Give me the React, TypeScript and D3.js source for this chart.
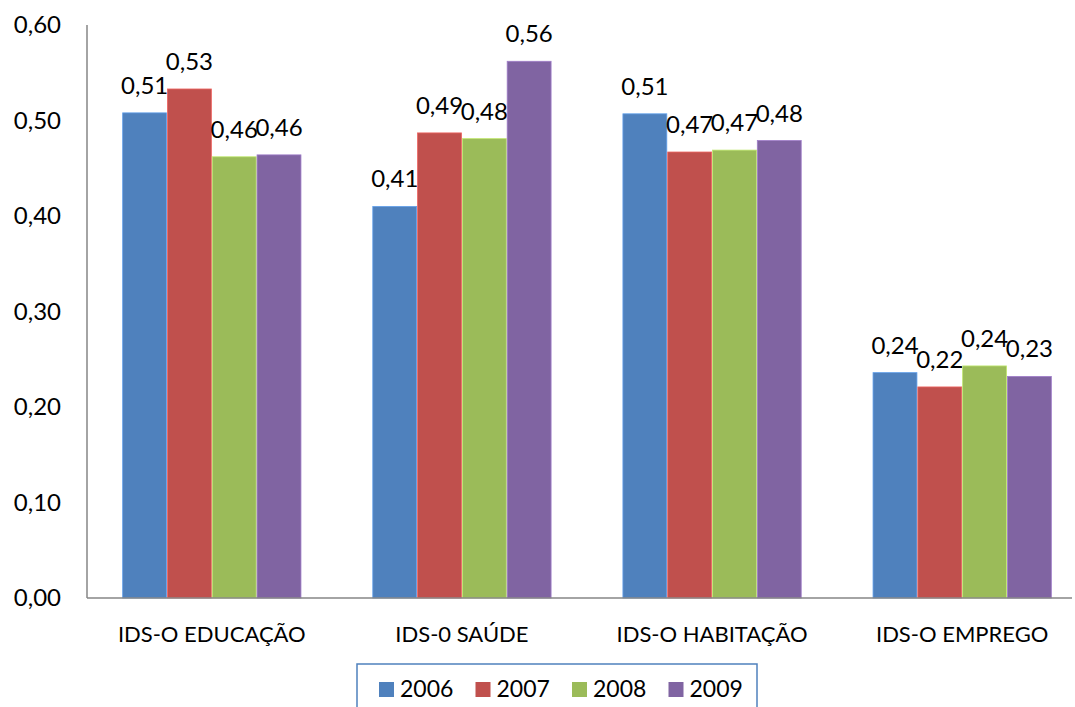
import * as d3 from 'd3'
import { useEffect, useRef } from 'react'

const categories = ['IDS-O EDUCAÇÃO', 'IDS-0 SAÚDE', 'IDS-O HABITAÇÃO', 'IDS-O EMPREGO']
const years = ['2006', '2007', '2008', '2009']
const v2006 = [0.508, 0.41, 0.507, 0.236]
const v2007 = [0.533, 0.487, 0.467, 0.221]
const v2008 = [0.462, 0.481, 0.469, 0.243]
const v2009 = [0.464, 0.562, 0.479, 0.232]
const colors = ['#4F81BD', '#C0504D', '#9BBB59', '#8064A2']
const yTicks = [0, 0.1, 0.2, 0.3, 0.4, 0.5, 0.6]

const FONT = 'Lato, "Open Sans", sans-serif'

export default function App() {
  const svgRef = useRef<SVGSVGElement>(null)

  useEffect(() => {
    if (!svgRef.current) return
    const svg = d3.select(svgRef.current)
    svg.selectAll('*').remove()

    const W = 1075
    const H = 707
    const left = 87
    const right = 1072
    const top = 25
    const bottom = 598

    const series = [v2006, v2007, v2008, v2009]

    // band range runs a bit past the axis end so the groups sit where the original's do
    const x = d3.scaleBand().domain(categories).range([left, 1087]).paddingInner(0.28).paddingOuter(0.139)
    const xs = d3.scaleBand().domain(years).range([0, x.bandwidth()]).padding(0.02)
    const y = d3.scaleLinear().domain([0, 0.6]).range([bottom, top])
    const fmt = (v: number) => d3.format('.2f')(v).replace('.', ',')

    svg.attr('viewBox', `0 0 ${W} ${H}`)

    // y tick labels
    svg
      .append('g')
      .selectAll('text')
      .data(yTicks)
      .join('text')
      .attr('x', 61)
      .attr('y', (d) => y(d))
      .attr('dy', '0.35em')
      .attr('text-anchor', 'end')
      .attr('font-family', FONT)
      .attr('font-size', 24)
      .attr('fill', '#000')
      .text((d) => fmt(d))

    // bars
    categories.forEach((c, ci) => {
      const g = svg.append('g').attr('transform', `translate(${x(c)},0)`)
      series.forEach((s, si) => {
        const v = s[ci]
        g.append('rect')
          .attr('x', xs(years[si])!)
          .attr('y', y(v))
          .attr('width', xs.bandwidth())
          .attr('height', bottom - y(v))
          .attr('fill', colors[si])
          .attr('stroke', d3.color(colors[si])!.brighter(0.6).formatHex())
          .attr('stroke-width', 0.8)
        g.append('text')
          .attr('x', xs(years[si])! + xs.bandwidth() / 2)
          .attr('y', y(v) - 19)
          .attr('text-anchor', 'middle')
          .attr('font-family', FONT)
          .attr('font-size', 24)
          .attr('fill', '#000')
          .text(fmt(v))
      })
    })

    // axes lines
    svg
      .append('line')
      .attr('x1', left)
      .attr('x2', left)
      .attr('y1', top)
      .attr('y2', bottom)
      .attr('stroke', '#868686')
      .attr('stroke-width', 1.5)
    svg
      .append('line')
      .attr('x1', left)
      .attr('x2', right)
      .attr('y1', bottom)
      .attr('y2', bottom)
      .attr('stroke', '#868686')
      .attr('stroke-width', 1.5)

    // category labels
    svg
      .append('g')
      .selectAll('text')
      .data(categories)
      .join('text')
      .attr('x', (d) => x(d)! + x.bandwidth() / 2)
      .attr('y', 642)
      .attr('text-anchor', 'middle')
      .attr('font-family', FONT)
      .attr('font-size', 22)
      .attr('fill', '#000')
      .text((d) => d)

    // legend
    const lg = svg.append('g')
    lg.append('rect')
      .attr('x', 357)
      .attr('y', 664)
      .attr('width', 400)
      .attr('height', 60)
      .attr('fill', '#fff')
      .attr('stroke', '#4F81BD')
      .attr('stroke-width', 1.5)
    years.forEach((yr, i) => {
      const lx = 379 + i * 96.5
      lg.append('rect').attr('x', lx).attr('y', 682).attr('width', 15).attr('height', 15).attr('fill', colors[i])
      lg.append('text')
        .attr('x', lx + 21)
        .attr('y', 697)
        .attr('font-family', FONT)
        .attr('font-size', 23)
        .attr('fill', '#000')
        .text(yr)
    })
  }, [])

  return (
    <svg
      ref={svgRef}
      width={1075}
      height={707}
      style={{ position: 'absolute', left: 0, top: 0, background: '#fff' }}
    />
  )
}
